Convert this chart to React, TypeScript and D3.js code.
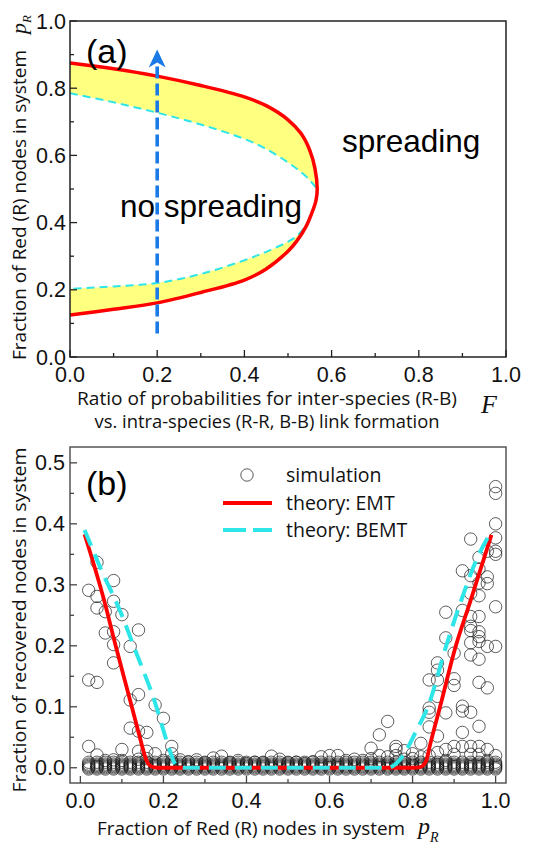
import React from "react";
import * as d3 from "d3";

// ---------- Panel (a) data ----------
// EMT boundary (red), traversed upper branch F=0 -> tip -> lower branch back to F=0
const emtF = [0, 0.1, 0.2, 0.3, 0.4, 0.45, 0.5, 0.53, 0.55, 0.562, 0.567, 0.564, 0.555, 0.54, 0.52, 0.5, 0.45, 0.4, 0.3, 0.2, 0.1, 0];
const emtP = [0.875, 0.858, 0.836, 0.808, 0.774, 0.748, 0.706, 0.665, 0.615, 0.56, 0.5, 0.465, 0.43, 0.385, 0.345, 0.315, 0.262, 0.229, 0.192, 0.161, 0.142, 0.125];
// BEMT boundary (cyan dashed)
const bemtF = [0, 0.1, 0.2, 0.3, 0.4, 0.45, 0.5, 0.53, 0.55, 0.567, 0.564, 0.555, 0.54, 0.52, 0.5, 0.45, 0.4, 0.3, 0.2, 0.1, 0];
const bemtP = [0.785, 0.758, 0.727, 0.692, 0.649, 0.619, 0.579, 0.55, 0.526, 0.495, 0.465, 0.43, 0.39, 0.36, 0.343, 0.313, 0.288, 0.247, 0.22, 0.21, 0.203];
const arrowF = 0.2;
const arrowP = [0.07, 0.915];
const topXTicks = [0, 0.2, 0.4, 0.6, 0.8, 1.0];
const topXTickLabels = ["0.0", "0.2", "0.4", "0.6", "0.8", "1.0"];
const topXMinor = [0.1, 0.3, 0.5, 0.7, 0.9];
const topYTicks = [0, 0.2, 0.4, 0.6, 0.8, 1.0];
const topYTickLabels = ["0.0", "0.2", "0.4", "0.6", "0.8", "1.0"];
const topYMinor = [0.1, 0.3, 0.5, 0.7, 0.9];

// ---------- Panel (b) data ----------
const emtCurveP = [0.01, 0.057, 0.085, 0.12, 0.145, 0.155, 0.163, 0.175, 0.19, 0.8, 0.818, 0.826, 0.833, 0.843, 0.87, 0.9, 0.94, 0.99];
const emtCurveR = [0.383, 0.275, 0.2, 0.11, 0.045, 0.02, 0.007, 0.001, 0, 0, 0.001, 0.004, 0.012, 0.04, 0.11, 0.19, 0.275, 0.382];
const bemtCurveP = [0.01, 0.05, 0.1, 0.128, 0.183, 0.205, 0.217, 0.225, 0.235, 0.25, 0.74, 0.755, 0.775, 0.81, 0.837, 0.881, 0.92, 0.95, 0.99];
const bemtCurveR = [0.39, 0.325, 0.25, 0.2, 0.1, 0.05, 0.025, 0.01, 0.002, 0, 0, 0.004, 0.018, 0.062, 0.1, 0.2, 0.28, 0.335, 0.388];

// near-zero outcomes seen in every column of runs (thick bottom row)
const nearZeroRuns = [-0.002, 0, 0.002, 0.004, 0.006, 0.009];

// simulation runs that reached a visible outbreak: fraction p and recovered fractions
const simulation: { p: number; r: number[] }[] = [
  { p: 0.02, r: [0.291, 0.144, 0.035] },
  { p: 0.04, r: [0.337, 0.281, 0.262, 0.14, 0.021] },
  { p: 0.06, r: [0.256, 0.221, 0.012] },
  { p: 0.08, r: [0.307, 0.273, 0.223, 0.202, 0.172, 0.013] },
  { p: 0.10, r: [0.251, 0.03, 0.012] },
  { p: 0.12, r: [0.199, 0.111, 0.065] },
  { p: 0.14, r: [0.226, 0.12, 0.06, 0.027, 0.014] },
  { p: 0.16, r: [0.058, 0.027, 0.015] },
  { p: 0.18, r: [0.103, 0.023] },
  { p: 0.20, r: [0.081, 0.012] },
  { p: 0.22, r: [0.035, 0.023, 0.012] },
  { p: 0.24, r: [0.013] },
  { p: 0.26, r: [0.01] },
  { p: 0.28, r: [0.013] },
  { p: 0.30, r: [0.008] },
  { p: 0.32, r: [0.016] },
  { p: 0.34, r: [0.019] },
  { p: 0.36, r: [0.008] },
  { p: 0.38, r: [0.012] },
  { p: 0.40, r: [0.007] },
  { p: 0.42, r: [0.009] },
  { p: 0.44, r: [0.008] },
  { p: 0.46, r: [0.019] },
  { p: 0.48, r: [0.014] },
  { p: 0.50, r: [0.008] },
  { p: 0.52, r: [0.009] },
  { p: 0.54, r: [0.007] },
  { p: 0.56, r: [0.01] },
  { p: 0.58, r: [0.018] },
  { p: 0.60, r: [0.02] },
  { p: 0.62, r: [0.02] },
  { p: 0.64, r: [0.012] },
  { p: 0.66, r: [0.014] },
  { p: 0.68, r: [0.012] },
  { p: 0.70, r: [0.032, 0.015] },
  { p: 0.72, r: [0.054, 0.02] },
  { p: 0.74, r: [0.076, 0.018] },
  { p: 0.76, r: [0.035, 0.03, 0.02] },
  { p: 0.78, r: [0.028, 0.014] },
  { p: 0.80, r: [0.023, 0.015] },
  { p: 0.82, r: [0.04, 0.018] },
  { p: 0.84, r: [0.144, 0.098, 0.091, 0.067, 0.02] },
  { p: 0.86, r: [0.172, 0.16, 0.144, 0.117, 0.052, 0.025] },
  { p: 0.88, r: [0.255, 0.213, 0.09, 0.03, 0.012] },
  { p: 0.90, r: [0.188, 0.146, 0.135, 0.035, 0.022] },
  { p: 0.92, r: [0.323, 0.258, 0.101, 0.093, 0.058, 0.035] },
  { p: 0.94, r: [0.375, 0.315, 0.286, 0.248, 0.232, 0.225, 0.205, 0.185, 0.091, 0.035, 0.022] },
  { p: 0.96, r: [0.345, 0.326, 0.303, 0.282, 0.248, 0.223, 0.215, 0.207, 0.178, 0.14, 0.068, 0.035, 0.022] },
  { p: 0.98, r: [0.355, 0.313, 0.302, 0.199, 0.131, 0.03, 0.012] },
  { p: 1.00, r: [0.461, 0.45, 0.4, 0.377, 0.355, 0.35, 0.264, 0.199, 0.02] },
];

const botXTicks = [0, 0.2, 0.4, 0.6, 0.8, 1.0];
const botXTickLabels = ["0.0", "0.2", "0.4", "0.6", "0.8", "1.0"];
const botXMinor = [0.1, 0.3, 0.5, 0.7, 0.9];
const botYTicks = [0, 0.1, 0.2, 0.3, 0.4, 0.5];
const botYTickLabels = ["0.0", "0.1", "0.2", "0.3", "0.4", "0.5"];
const botYMinor = [0.05, 0.15, 0.25, 0.35, 0.45];

const legendItems = ["simulation", "theory: EMT", "theory: BEMT"];

const RED = "#ff0000";
const CYAN = "#2ee6e8";
const YELLOW = "#ffff80";
const BLUE = "#1a7ae8";
const TICKFONT = "'Liberation Sans', Arial, sans-serif";
const TITLEFONT = "'Open Sans', 'Noto Sans', sans-serif";
const SERIF = "'Liberation Serif', 'DejaVu Serif', serif";

export default function App() {
  // scales
  const xTop = d3.scaleLinear().domain([0, 1]).range([70, 506]);
  const yTop = d3.scaleLinear().domain([0, 1]).range([357, 21]);
  const xBot = d3.scaleLinear().domain([-0.025, 1.025]).range([70, 506]);
  const yBot = d3.scaleLinear().domain([-0.025, 0.526]).range([783, 447]);

  const boundaryLine = d3
    .line<[number, number]>()
    .x((d) => xTop(d[0]))
    .y((d) => yTop(d[1]))
    .curve(d3.curveCatmullRom.alpha(0.5));

  const emtPts: [number, number][] = emtF.map((f, i) => [f, emtP[i]]);
  const bemtPts: [number, number][] = bemtF.map((f, i) => [f, bemtP[i]]);
  const emtPath = boundaryLine(emtPts) || "";
  const bemtPath = boundaryLine(bemtPts) || "";

  const curveLine = d3
    .line<[number, number]>()
    .x((d) => xBot(d[0]))
    .y((d) => yBot(d[1]))
    .curve(d3.curveMonotoneX);
  const emtCurve = curveLine(emtCurveP.map((p, i) => [p, emtCurveR[i]] as [number, number])) || "";
  const bemtCurve = curveLine(bemtCurveP.map((p, i) => [p, bemtCurveR[i]] as [number, number])) || "";

  const ax = xTop(arrowF);
  const aBase = yTop(arrowP[0]);
  const aTip = yTop(arrowP[1]);

  const topL = xTop(0), topR = xTop(1), topT = yTop(1), topB = yTop(0);
  const botL = xBot.range()[0], botR = xBot.range()[1], botT = yBot.range()[1], botB = yBot.range()[0];

  const simPoints: [number, number][] = [];
  simulation.forEach((g) => {
    nearZeroRuns.forEach((r) => simPoints.push([g.p, r]));
    g.r.forEach((r) => simPoints.push([g.p, r]));
  });

  return (
    <svg
      width={545}
      height={846}
      viewBox="0 0 545 846"
      style={{ position: "absolute", left: 0, top: 0, background: "#fff" }}
    >
      <rect x={0} y={0} width={545} height={846} fill="#fff" />

      {/* ================= Panel (a) ================= */}
      <defs>
        <clipPath id="clipTop">
          <rect x={topL} y={topT} width={topR - topL} height={topB - topT} />
        </clipPath>
        <clipPath id="clipBot">
          <rect x={botL} y={botT} width={botR - botL} height={botB - botT} />
        </clipPath>
      </defs>
      <g clipPath="url(#clipTop)">
        <path d={emtPath + "Z"} fill={YELLOW} stroke="none" />
        <path d={bemtPath + "Z"} fill="#fff" stroke="none" />
        <path d={bemtPath} fill="none" stroke={CYAN} strokeWidth={2} strokeDasharray="8 5" />
        <path d={emtPath} fill="none" stroke={RED} strokeWidth={3.5} />
      </g>

      {/* texts inside panel a */}
      <text x={86} y={63} fontFamily={TICKFONT} fontSize={34} fill="#000">(a)</text>
      <text x={342} y={152} fontFamily={TICKFONT} fontSize={31.5} fill="#000">spreading</text>
      <text x={120} y={217} fontFamily={TICKFONT} fontSize={31.5} fill="#000">no spreading</text>

      {/* blue dashed arrow */}
      <line x1={ax} y1={aBase} x2={ax} y2={aTip + 12} stroke={BLUE} strokeWidth={3.6} strokeDasharray="12 5" />
      <path
        d={`M${ax},${aTip} L${ax + 8.5},${aTip + 18} L${ax},${aTip + 13} L${ax - 8.5},${aTip + 18} Z`}
        fill={BLUE}
      />

      {/* frame a */}
      <rect x={topL} y={topT} width={topR - topL} height={topB - topT} fill="none" stroke="#222" strokeWidth={1.5} />
      {topXTicks.map((t) => (
        <line key={"txt" + t} x1={xTop(t)} x2={xTop(t)} y1={topB} y2={topB - 7} stroke="#222" strokeWidth={1.3} />
      ))}
      {topXMinor.map((t) => (
        <line key={"txm" + t} x1={xTop(t)} x2={xTop(t)} y1={topB} y2={topB - 4} stroke="#222" strokeWidth={1.3} />
      ))}
      {topYTicks.map((t) => (
        <line key={"tyt" + t} x1={topL} x2={topL + 7} y1={yTop(t)} y2={yTop(t)} stroke="#222" strokeWidth={1.3} />
      ))}
      {topYMinor.map((t) => (
        <line key={"tym" + t} x1={topL} x2={topL + 4} y1={yTop(t)} y2={yTop(t)} stroke="#222" strokeWidth={1.3} />
      ))}
      {topXTicks.map((t, i) => (
        <text key={"txl" + t} x={xTop(t)} y={382} textAnchor="middle" fontFamily={TICKFONT} fontSize={21.5} fill="#111">
          {topXTickLabels[i]}
        </text>
      ))}
      {topYTicks.map((t, i) => (
        <text key={"tyl" + t} x={66} y={yTop(t) + 7.5} textAnchor="end" fontFamily={TICKFONT} fontSize={21.5} fill="#111">
          {topYTickLabels[i]}
        </text>
      ))}

      {/* axis titles a */}
      <text x={267} y={405} textAnchor="middle" fontFamily={TITLEFONT} fontSize={18} fill="#111" textLength={380} lengthAdjust="spacingAndGlyphs">
        Ratio of probabilities for inter-species (R-B)
      </text>
      <text x={267} y={428} textAnchor="middle" fontFamily={TITLEFONT} fontSize={18} fill="#111" textLength={345} lengthAdjust="spacingAndGlyphs">
        vs. intra-species (R-R, B-B) link formation
      </text>
      <text x={481} y={413} fontFamily={SERIF} fontStyle="italic" fontSize={26} fill="#111">F</text>

      <g transform={`translate(26,${205}) rotate(-90)`}>
        <text x={0} y={0} textAnchor="middle" fontFamily={TITLEFONT} fontSize={18} fill="#111" textLength={310} lengthAdjust="spacingAndGlyphs">
          Fraction of Red (R) nodes in system
        </text>
      </g>
      <g transform={`translate(26,34) rotate(-90)`}>
        <text x={0} y={0} fontFamily={SERIF} fontStyle="italic" fontSize={22} fill="#111">p</text>
        <text x={11} y={5} fontFamily={SERIF} fontStyle="italic" fontSize={13} fill="#111">R</text>
      </g>

      {/* ================= Panel (b) ================= */}
      <g clipPath="url(#clipBot)">
        {simPoints.map((d, i) => (
          <circle key={"s" + i} cx={xBot(d[0])} cy={yBot(d[1])} r={6.2} fill="none" stroke="#1a1a1a" strokeOpacity={0.7} strokeWidth={1} />
        ))}
        <path d={emtCurve} fill="none" stroke={RED} strokeWidth={3.8} strokeLinejoin="round" />
        <path d={bemtCurve} fill="none" stroke={CYAN} strokeWidth={4} strokeDasharray="17 9" />
      </g>

      <text x={86} y={495} fontFamily={TICKFONT} fontSize={34} fill="#000">(b)</text>

      {/* legend */}
      <circle cx={247} cy={475} r={6.2} fill="none" stroke="#1a1a1a" strokeOpacity={0.72} strokeWidth={1} />
      <line x1={223} x2={272} y1={503} y2={503} stroke={RED} strokeWidth={3.8} />
      <line x1={223} x2={272} y1={530} y2={530} stroke={CYAN} strokeWidth={4} strokeDasharray="23 7" />
      {legendItems.map((t, i) => (
        <text key={t} x={286} y={482 + i * 27.5} fontFamily={TITLEFONT} fontSize={19.5} fill="#111">
          {t}
        </text>
      ))}

      {/* frame b */}
      <rect x={botL} y={botT} width={botR - botL} height={botB - botT} fill="none" stroke="#555" strokeWidth={1.5} />
      {botXTicks.map((t) => (
        <line key={"bxt" + t} x1={xBot(t)} x2={xBot(t)} y1={botB} y2={botB - 7} stroke="#444" strokeWidth={1.3} />
      ))}
      {botXMinor.map((t) => (
        <line key={"bxm" + t} x1={xBot(t)} x2={xBot(t)} y1={botB} y2={botB - 4} stroke="#444" strokeWidth={1.3} />
      ))}
      {botYTicks.map((t) => (
        <line key={"byt" + t} x1={botL} x2={botL + 7} y1={yBot(t)} y2={yBot(t)} stroke="#444" strokeWidth={1.3} />
      ))}
      {botYMinor.map((t) => (
        <line key={"bym" + t} x1={botL} x2={botL + 4} y1={yBot(t)} y2={yBot(t)} stroke="#444" strokeWidth={1.3} />
      ))}
      {botXTicks.map((t, i) => (
        <text key={"bxl" + t} x={xBot(t)} y={808} textAnchor="middle" fontFamily={TICKFONT} fontSize={21.5} fill="#111">
          {botXTickLabels[i]}
        </text>
      ))}
      {botYTicks.map((t, i) => (
        <text key={"byl" + t} x={65} y={yBot(t) + 7.5} textAnchor="end" fontFamily={TICKFONT} fontSize={21.5} fill="#111">
          {botYTickLabels[i]}
        </text>
      ))}

      <text x={251} y={835} textAnchor="middle" fontFamily={TITLEFONT} fontSize={18} fill="#111" textLength={308} lengthAdjust="spacingAndGlyphs">
        Fraction of Red (R) nodes in system
      </text>
      <text x={418} y={834} fontFamily={SERIF} fontStyle="italic" fontSize={24} fill="#111">p</text>
      <text x={430} y={842} fontFamily={SERIF} fontStyle="italic" fontSize={14} fill="#111">R</text>

      <g transform={`translate(26,${620}) rotate(-90)`}>
        <text x={0} y={0} textAnchor="middle" fontFamily={TITLEFONT} fontSize={18} fill="#111" textLength={345} lengthAdjust="spacingAndGlyphs">
          Fraction of recovered nodes in system
        </text>
      </g>
    </svg>
  );
}
